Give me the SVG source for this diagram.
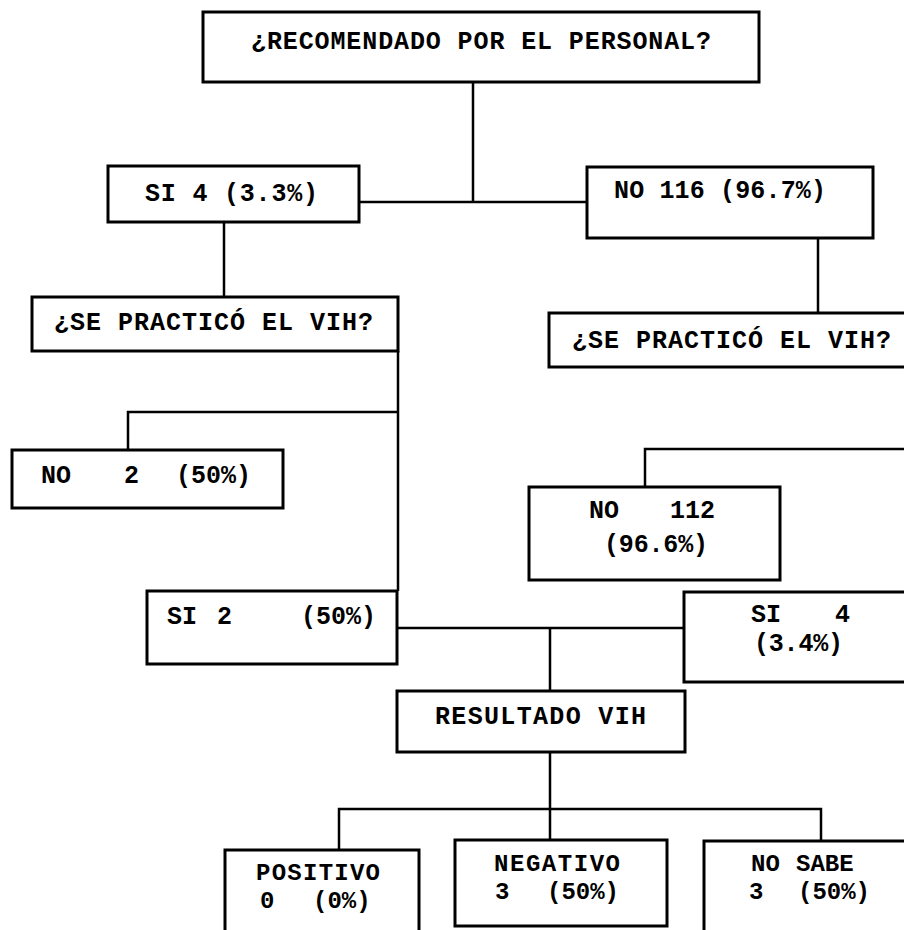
<svg xmlns="http://www.w3.org/2000/svg" width="904" height="930" viewBox="0 0 904 930">
<style>
.box{fill:#fff;stroke:#000;stroke-width:3}
.con{fill:none;stroke:#000;stroke-width:2.5}
text{font-family:"Liberation Mono","DejaVu Sans Mono",monospace;font-weight:bold;font-size:25px;fill:#000;white-space:pre}
text.sm{font-size:24px}
</style>
<rect width="904" height="930" fill="#fff"/>
<g id="connectors">
<path class="con" d="M473,82V202M360,202H587"/>
<path class="con" d="M224,222V297"/>
<path class="con" d="M818,238V313"/>
<path class="con" d="M398,351V591M398,412H128V450"/>
<path class="con" d="M906,449H645V487"/>
<path class="con" d="M397,628H684M550,628V691"/>
<path class="con" d="M550,752V840M339,850V809H821V841"/>
</g>
<g id="n-recomendado">
<rect class="box" x="203" y="12" width="556" height="70"/>
<text x="251" y="49" textLength="460" lengthAdjust="spacing">¿RECOMENDADO POR EL PERSONAL?</text>
</g>
<g id="n-si4">
<rect class="box" x="108" y="166" width="251" height="56"/>
<text x="145" y="201" textLength="173" lengthAdjust="spacing">SI 4 (3.3%)</text>
</g>
<g id="n-no116">
<rect class="box" x="587" y="167" width="286" height="71"/>
<text x="614" y="198" textLength="212" lengthAdjust="spacing">NO 116 (96.7%)</text>
</g>
<g id="n-practico-izq">
<rect class="box" x="32" y="297" width="366" height="54"/>
<text x="54" y="330" textLength="319" lengthAdjust="spacing">¿SE PRACTICÓ EL VIH?</text>
</g>
<g id="n-practico-der">
<rect class="box" x="549" y="313" width="365" height="54"/>
<text x="572" y="348" textLength="319" lengthAdjust="spacing">¿SE PRACTICÓ EL VIH?</text>
</g>
<g id="n-no2">
<rect class="box" x="12" y="450" width="271" height="58"/>
<text y="483"><tspan x="41">NO</tspan><tspan x="124">2</tspan><tspan x="176">(50%)</tspan></text>
</g>
<g id="n-no112">
<rect class="box" x="529" y="487" width="251" height="93"/>
<text y="518"><tspan x="589">NO</tspan><tspan x="670">112</tspan></text>
<text x="604" y="552" textLength="104" lengthAdjust="spacing">(96.6%)</text>
</g>
<g id="n-si2">
<rect class="box" x="147" y="591" width="250" height="73"/>
<text y="624"><tspan x="167">SI</tspan><tspan x="217">2</tspan><tspan x="301">(50%)</tspan></text>
</g>
<g id="n-si4b">
<rect class="box" x="684" y="592" width="226" height="90"/>
<text y="622"><tspan x="751">SI</tspan><tspan x="835">4</tspan></text>
<text x="754" y="651" textLength="89" lengthAdjust="spacing">(3.4%)</text>
</g>
<g id="n-resultado">
<rect class="box" x="397" y="691" width="288" height="61"/>
<text x="435" y="724" textLength="211" lengthAdjust="spacing">RESULTADO VIH</text>
</g>
<g id="n-positivo">
<rect class="box" x="225" y="850" width="194" height="95"/>
<text class="sm" x="256" y="880" textLength="124" lengthAdjust="spacing">POSITIVO</text>
<text class="sm" y="908"><tspan x="260">0</tspan><tspan x="313">(0%)</tspan></text>
</g>
<g id="n-negativo">
<rect class="box" x="455" y="840" width="212" height="86"/>
<text class="sm" x="494" y="871" textLength="126" lengthAdjust="spacing">NEGATIVO</text>
<text class="sm" y="899"><tspan x="495">3</tspan><tspan x="547">(50%)</tspan></text>
</g>
<g id="n-nosabe">
<rect class="box" x="704" y="841" width="210" height="100"/>
<text class="sm" y="871"><tspan x="751">NO</tspan><tspan x="796">SABE</tspan></text>
<text class="sm" y="899"><tspan x="749">3</tspan><tspan x="798">(50%)</tspan></text>
</g>
</svg>
